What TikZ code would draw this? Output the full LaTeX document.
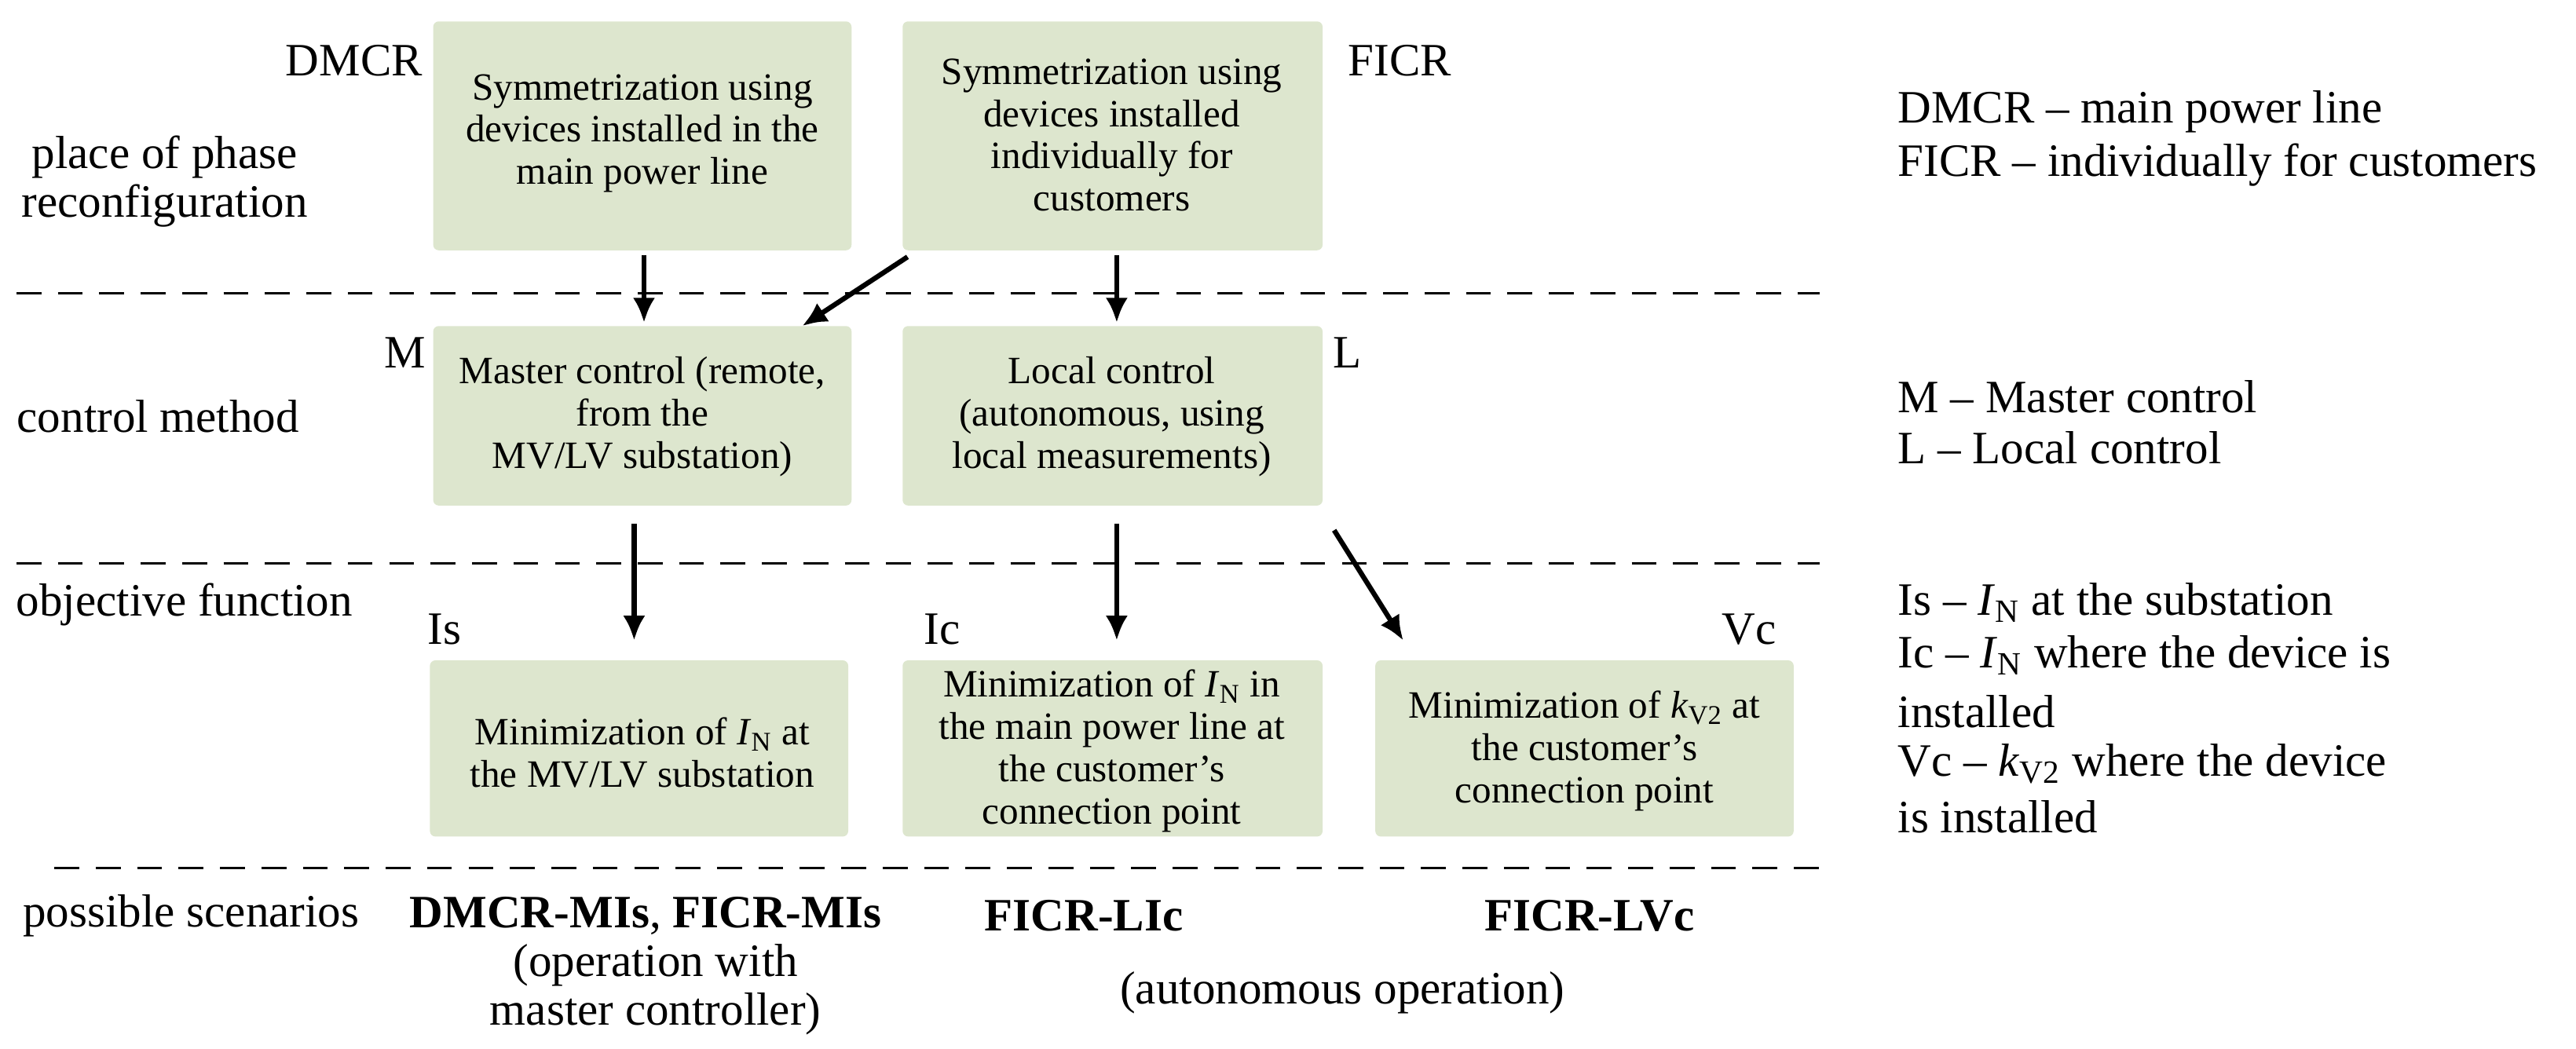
\documentclass[tikz,border=0pt]{standalone}
\usepackage{fontspec}
\setmainfont{Liberation Serif}
\usetikzlibrary{arrows.meta}
\definecolor{boxg}{HTML}{DDE6CE}
\begin{document}
\begin{tikzpicture}[x=0.02097cm,y=-0.02097cm,
  lbl/.style={font=\fontsize{14}{15.3}\selectfont,align=center,inner sep=0pt},
  big/.style={font=\fontsize{16.8}{17.6}\selectfont,align=center,inner sep=0pt},
  rl/.style={font=\fontsize{16.8}{17.6}\selectfont,anchor=west,inner sep=0pt},
  arr/.style={-{Latex[length=9pt,width=8pt]},line width=1.8pt},
  dl/.style={dashed,dash pattern=on 9pt off 6pt,line width=0.9pt}]
\useasboundingbox (0,0) rectangle (1564,637);
\fill[boxg,rounded corners=2pt] (263,13) rectangle (517,152);
\fill[boxg,rounded corners=2pt] (548,13) rectangle (803,152);
\fill[boxg,rounded corners=2pt] (263,198) rectangle (517,307);
\fill[boxg,rounded corners=2pt] (548,198) rectangle (803,307);
\fill[boxg,rounded corners=2pt] (261,401) rectangle (515,508);
\fill[boxg,rounded corners=2pt] (548,401) rectangle (803,508);
\fill[boxg,rounded corners=2pt] (835,401) rectangle (1089,508);
\node[lbl] (b1) at (390,81) {Symmetrization using\\devices installed in the\\main power line};
\node[lbl] (b2) at (675,82) {Symmetrization using\\devices installed\\individually for\\customers};
\node[lbl] (b3) at (390,253) {Master control (remote,\\from the\\MV/LV substation)};
\node[lbl] (b4) at (675,253) {Local control\\(autonomous, using\\local measurements)};
\node[lbl] (b5) at (390,457) {Minimization of \textit{I}\textsubscript{N} at\\the MV/LV substation};
\node[lbl] (b6) at (675,456) {Minimization of \textit{I}\textsubscript{N} in\\the main power line at\\the customer's\\connection point};
\node[lbl] (b7) at (962,456) {Minimization of \textit{k}\textsubscript{V2} at\\the customer's\\connection point};
\draw[dl] (10,178) -- (1105,178);
\draw[dl] (10,342) -- (1105,342);
\draw[dl] (33,527) -- (1112,527);
\coordinate (a1s) at (391,155); \coordinate (a1e) at (391,196);
\coordinate (a2s) at (551,156); \coordinate (a2e) at (487,198);
\coordinate (a3s) at (678,155); \coordinate (a3e) at (678,196);
\coordinate (a4s) at (385,318); \coordinate (a4e) at (385,389);
\coordinate (a5s) at (678,318); \coordinate (a5e) at (678,389);
\coordinate (a6s) at (810,322); \coordinate (a6e) at (852,389);
\draw[arr] (a1s) -- (a1e);
\draw[arr] (a2s) -- (a2e);
\draw[arr] (a3s) -- (a3e);
\draw[arr] (a4s) -- (a4e);
\draw[arr] (a5s) -- (a5e);
\draw[arr] (a6s) -- (a6e);
\node[big] (t1) at (215,37) {DMCR};
\node[big] (t2) at (850,37) {FICR};
\node[big] (t3) at (246,214) {M};
\node[big] (t4) at (818,214) {L};
\node[big] (t5) at (270,382) {Is};
\node[big] (t6) at (572,382) {Ic};
\node[big] (t7) at (1062,382) {Vc};
\node[big] (l1) at (100,110) {place of phase\\reconfiguration};
\node[big] (l2) at (96,253) {control method};
\node[big] (l3) at (112,367) {objective function};
\node[big] (l4) at (116,556) {possible scenarios};
\node[rl] (r1) at (1152,68) {DMCR -- main power line};
\node[rl] (r2) at (1152,100) {FICR -- individually for customers};
\node[rl] (r3) at (1152,241) {M -- Master control};
\node[rl] (r4) at (1152,272) {L -- Local control};
\node[rl] (r5) at (1152,366) {Is -- \textit{I}\textsubscript{N} at the substation};
\node[rl] (r6) at (1152,398) {Ic -- \textit{I}\textsubscript{N} where the device is};
\node[rl] (r7) at (1152,432) {installed};
\node[rl] (r8) at (1152,464) {Vc -- \textit{k}\textsubscript{V2} where the device};
\node[rl] (r9) at (1152,496) {is installed};
\node[big] (s1) at (392,556) {\textbf{DMCR-MIs}, \textbf{FICR-MIs}};
\node[big] (s2) at (398,601) {(operation with\\master controller)};
\node[big] (s3) at (658,556) {\textbf{FICR-LIc}};
\node[big] (s4) at (965,556) {\textbf{FICR-LVc}};
\node[big] (s5) at (815,603) {(autonomous operation)};
\end{tikzpicture}
\end{document}
